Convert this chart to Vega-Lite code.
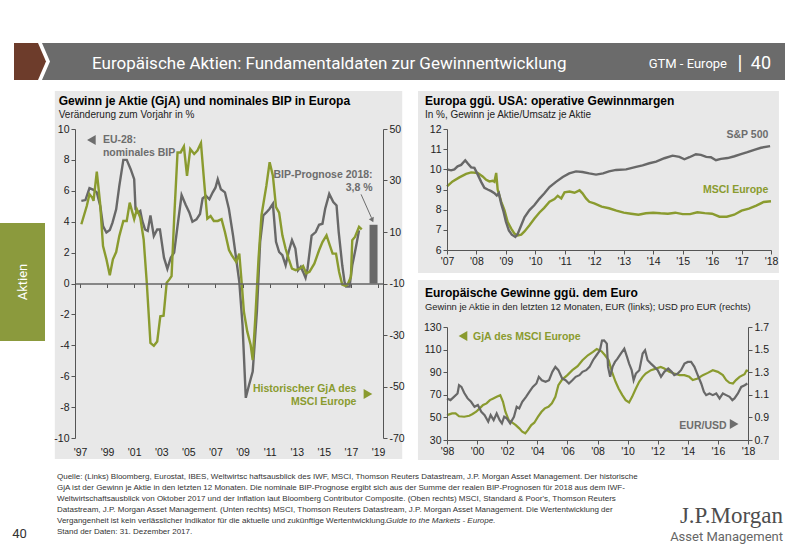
{
"$schema": "https://vega.github.io/schema/vega-lite/v6.json",
"background": "white",
"padding": {"left": 0, "top": 43, "right": 0, "bottom": 0},
"config": {
  "view": {"stroke": null},
  "font": "Liberation Sans",
  "axis": {"labelFont": "Liberation Sans", "labelFontSize": 10.5, "labelColor": "#222222", "domainColor": "#555555", "tickColor": "#555555", "tickSize": 4, "grid": false, "labelFlush": false, "labelOverlap": false, "labelPadding": 2, "domainWidth": 1, "tickWidth": 1},
  "point": {"opacity": 1},
  "text": {"font": "Liberation Sans"}
},
"spacing": 10,
"vconcat": [
  {"bounds": "flush", "spacing": 0, "hconcat": [
    {"width": 52, "height": 37, "view": {"fill": "#ffffff"}, "data": {"values": [{}]}, "layer": [
      {"mark": {"type": "point", "shape": "M-0.4615,-0.7115L0.4615,-0.7115L0.769,0L0.4615,0.7115L-0.4615,0.7115Z", "size": 2704, "filled": true, "color": "#6d3c2b", "strokeWidth": 0, "opacity": 1}, "encoding": {}},
      {"mark": {"type": "point", "shape": "M0.615,-0.7115L1.03,-0.7115L1.03,0.7115L0.615,0.7115L0.923,0Z", "size": 2704, "filled": true, "color": "#6b6b6b", "strokeWidth": 0, "opacity": 1}, "encoding": {}}
    ]},
    {"width": 733, "height": 37, "view": {"fill": "#6b6b6b"}, "data": {"values": [{}]}, "layer": [
      {"mark": {"type": "text", "text": "Europäische Aktien: Fundamentaldaten zur Gewinnentwicklung", "font": "Roboto", "fontSize": 17, "color": "#ffffff", "align": "left", "baseline": "alphabetic", "dx": -326.5, "dy": 7}, "encoding": {}},
      {"mark": {"type": "text", "text": "GTM - Europe", "font": "Roboto", "fontSize": 13, "color": "#ffffff", "align": "right", "baseline": "alphabetic", "dx": 308.5, "dy": 6}, "encoding": {}},
      {"mark": {"type": "text", "text": "|", "font": "Roboto", "fontSize": 20, "color": "#ffffff", "align": "center", "baseline": "alphabetic", "dx": 321.5, "dy": 8}, "encoding": {}},
      {"mark": {"type": "text", "text": "40", "font": "Roboto", "fontSize": 18, "color": "#ffffff", "align": "right", "baseline": "alphabetic", "dx": 352.5, "dy": 7}, "encoding": {}}
    ]}
  ]},
  {"spacing": 7, "vconcat": [
    {"spacing": 8, "hconcat": [
      {"bounds": "flush", "spacing": 0, "vconcat": [
        {"width": 45, "height": 94, "view": {"fill": "#ffffff"}, "data": {"values": []}, "mark": "point", "encoding": {}},
        {"width": 45, "height": 118, "view": {"fill": "#8b9a3d"}, "data": {"values": [{}]}, "mark": {"type": "text", "text": "Aktien", "angle": 270, "font": "Roboto", "fontSize": 13, "color": "#ffffff", "align": "center", "baseline": "middle"}, "encoding": {}}
      ]},
      {"spacing": 12, "hconcat": [
        {"width": 308, "height": 309,
         "resolve": {"scale": {"y": "independent"}, "axis": {"x": "independent", "y": "independent"}},
         "layer": [
          {"layer": [
            {"data": {"values": [{}]}, "mark": {"type": "rect", "fill": "#e8e8e8", "stroke": null},
             "encoding": {"x": {"datum": 1995.14, "type": "quantitative", "scale": {"domain": [1997, 2019], "nice": false, "zero": false}, "axis": {"title": null}}, "x2": {"datum": 2020.79},
                          "y": {"datum": 12.46, "type": "quantitative", "scale": {"domain": [-10, 10], "nice": false, "zero": false}, "axis": {"title": null}}, "y2": {"datum": -11.36}}},
            {"data": {"values": [{}]}, "mark": {"type": "text", "align": "left", "baseline": "alphabetic", "fontSize": 12, "fontWeight": "bold", "color": "#000000", "text": "Gewinn je Aktie (GjA) und nominales BIP in Europa"},
             "encoding": {"x": {"datum": 1995.43, "type": "quantitative", "scale": {"domain": [1997, 2019], "nice": false, "zero": false}, "axis": {"title": null}},
                          "y": {"datum": 11.55, "type": "quantitative", "scale": {"domain": [-10, 10], "nice": false, "zero": false}, "axis": {"title": null}}}},
            {"data": {"values": [{}]}, "mark": {"type": "text", "align": "left", "baseline": "alphabetic", "fontSize": 10, "color": "#222222", "text": "Veränderung zum Vorjahr in %"},
             "encoding": {"x": {"datum": 1995.43, "type": "quantitative", "scale": {"domain": [1997, 2019], "nice": false, "zero": false}, "axis": {"title": null}},
                          "y": {"datum": 10.71, "type": "quantitative", "scale": {"domain": [-10, 10], "nice": false, "zero": false}, "axis": {"title": null}}}},
            {"data": {"values": [{"t":1997.1,"v":5.35},{"t":1997.4,"v":5.4},{"t":1997.7,"v":6.17},{"t":1998.0,"v":6.06},{"t":1998.24,"v":5.9},{"t":1998.5,"v":5.0},{"t":1998.7,"v":3.72},{"t":1998.95,"v":3.3},{"t":1999.2,"v":3.46},{"t":1999.4,"v":3.94},{"t":1999.67,"v":4.8},{"t":1999.9,"v":6.3},{"t":2000.2,"v":8.0},{"t":2000.45,"v":8.0},{"t":2000.74,"v":7.4},{"t":2001.0,"v":6.75},{"t":2001.1,"v":4.8},{"t":2001.3,"v":4.6},{"t":2001.45,"v":4.7},{"t":2001.6,"v":4.05},{"t":2001.8,"v":3.5},{"t":2002.0,"v":3.4},{"t":2002.2,"v":4.4},{"t":2002.45,"v":3.07},{"t":2002.7,"v":3.5},{"t":2002.9,"v":3.5},{"t":2003.2,"v":1.67},{"t":2003.45,"v":0.95},{"t":2003.7,"v":1.67},{"t":2003.95,"v":2.0},{"t":2004.2,"v":3.72},{"t":2004.5,"v":5.73},{"t":2004.8,"v":5.1},{"t":2005.07,"v":4.6},{"t":2005.3,"v":4.0},{"t":2005.6,"v":4.15},{"t":2005.86,"v":4.5},{"t":2006.05,"v":5.5},{"t":2006.3,"v":5.67},{"t":2006.55,"v":5.45},{"t":2006.8,"v":5.9},{"t":2007.0,"v":6.2},{"t":2007.17,"v":6.75},{"t":2007.4,"v":6.1},{"t":2007.7,"v":5.9},{"t":2007.99,"v":4.84},{"t":2008.3,"v":3.1},{"t":2008.53,"v":1.6},{"t":2008.76,"v":0.1},{"t":2009.0,"v":-2.7},{"t":2009.24,"v":-7.4},{"t":2009.47,"v":-6.6},{"t":2009.75,"v":-5.7},{"t":2010.06,"v":-1.8},{"t":2010.3,"v":2.7},{"t":2010.53,"v":4.4},{"t":2010.76,"v":4.6},{"t":2011.0,"v":4.84},{"t":2011.24,"v":5.16},{"t":2011.47,"v":2.7},{"t":2011.7,"v":2.04},{"t":2011.94,"v":1.83},{"t":2012.18,"v":1.18},{"t":2012.4,"v":2.04},{"t":2012.65,"v":2.8},{"t":2012.9,"v":2.26},{"t":2013.1,"v":0.86},{"t":2013.3,"v":1.08},{"t":2013.47,"v":0.75},{"t":2013.65,"v":0.37},{"t":2013.8,"v":0.97},{"t":2014.1,"v":3.1},{"t":2014.4,"v":3.33},{"t":2014.65,"v":3.8},{"t":2014.9,"v":3.87},{"t":2015.1,"v":4.84},{"t":2015.4,"v":5.8},{"t":2015.7,"v":5.27},{"t":2015.94,"v":5.05},{"t":2016.1,"v":3.33},{"t":2016.36,"v":1.18},{"t":2016.53,"v":0.1},{"t":2016.65,"v":-0.2},{"t":2016.9,"v":-0.2},{"t":2017.1,"v":1.18},{"t":2017.35,"v":2.26},{"t":2017.6,"v":3.44}]},
             "mark": {"type": "line", "color": "#686868", "strokeWidth": 2.4},
             "encoding": {"x": {"field": "t", "type": "quantitative", "scale": {"domain": [1997, 2019], "nice": false, "zero": false}, "axis": {"orient": "bottom", "zindex": 1, "tickCount": 40, "values": [1997,1999,2001,2003,2005,2007,2009,2011,2013,2015,2017,2019], "format": "d", "labelExpr": "\"'\" + substring(datum.label, 2)", "domain": false, "ticks": false, "tickSize": 0, "labelPadding": 9, "title": null}},
                          "y": {"field": "v", "type": "quantitative", "scale": {"domain": [-10, 10], "nice": false, "zero": false}, "axis": {"orient": "left", "zindex": 1, "tickCount": 40, "values": [-10,-8,-6,-4,-2,0,2,4,6,8,10], "labelExpr": "toString(datum.value)", "title": null}}}},
            {"data": {"values": [{"jahr": 2018.67, "prognose": 3.8}]}, "mark": {"type": "bar", "color": "#686868", "width": 8, "orient": "vertical"},
             "encoding": {"x": {"field": "jahr", "type": "quantitative", "scale": {"domain": [1997, 2019], "nice": false, "zero": false}, "axis": {"title": null}},
                          "y": {"field": "prognose", "type": "quantitative", "scale": {"domain": [-10, 10], "nice": false, "zero": false}, "axis": {"title": null}}}},
            {"data": {"values": [{}]}, "mark": {"type": "point", "shape": "triangle-left", "filled": true, "color": "#6d6d6d", "size": 100, "opacity": 1},
             "encoding": {"x": {"datum": 1997.84, "type": "quantitative", "scale": {"domain": [1997, 2019], "nice": false, "zero": false}, "axis": {"title": null}},
                          "y": {"datum": 9.29, "type": "quantitative", "scale": {"domain": [-10, 10], "nice": false, "zero": false}, "axis": {"title": null}}}},
            {"data": {"values": [{}]}, "mark": {"type": "text", "align": "left", "baseline": "alphabetic", "fontSize": 10.5, "fontWeight": "bold", "color": "#6d6d6d", "lineHeight": 12.5},
             "encoding": {"x": {"datum": 1998.69, "type": "quantitative", "scale": {"domain": [1997, 2019], "nice": false, "zero": false}, "axis": {"title": null}},
                          "y": {"datum": 9.09, "type": "quantitative", "scale": {"domain": [-10, 10], "nice": false, "zero": false}, "axis": {"title": null}},
                          "text": {"value": ["EU-28:", "nominales BIP"]}}},
            {"data": {"values": [{}]}, "mark": {"type": "text", "align": "right", "baseline": "alphabetic", "fontSize": 10.5, "fontWeight": "bold", "color": "#6d6d6d", "lineHeight": 13},
             "encoding": {"x": {"datum": 2018.6, "type": "quantitative", "scale": {"domain": [1997, 2019], "nice": false, "zero": false}, "axis": {"title": null}},
                          "y": {"datum": 6.83, "type": "quantitative", "scale": {"domain": [-10, 10], "nice": false, "zero": false}, "axis": {"title": null}},
                          "text": {"value": ["BIP-Prognose 2018:", "3,8 %"]}}},
            {"data": {"values": [{}]}, "mark": {"type": "rule", "color": "#6d6d6d", "strokeWidth": 1},
             "encoding": {"x": {"datum": 2017.75, "type": "quantitative", "scale": {"domain": [1997, 2019], "nice": false, "zero": false}, "axis": {"title": null}}, "x2": {"datum": 2018.52},
                          "y": {"datum": 5.77, "type": "quantitative", "scale": {"domain": [-10, 10], "nice": false, "zero": false}, "axis": {"title": null}}, "y2": {"datum": 4.25}}},
            {"data": {"values": [{}]}, "mark": {"type": "point", "shape": "triangle-down", "filled": true, "color": "#6d6d6d", "size": 30, "angle": -25, "opacity": 1},
             "encoding": {"x": {"datum": 2018.58, "type": "quantitative", "scale": {"domain": [1997, 2019], "nice": false, "zero": false}, "axis": {"title": null}},
                          "y": {"datum": 4.1, "type": "quantitative", "scale": {"domain": [-10, 10], "nice": false, "zero": false}, "axis": {"title": null}}}}
          ]},
          {"layer": [
            {"data": {"values": [{"t":1997.1,"g":13.0},{"t":1997.5,"g":20.1},{"t":1997.7,"g":24.7},{"t":1997.9,"g":23.4},{"t":1998.0,"g":22.1},{"t":1998.24,"g":33.4},{"t":1998.48,"g":21.4},{"t":1998.7,"g":4.5},{"t":1998.95,"g":-0.6},{"t":1999.2,"g":-6.8},{"t":1999.43,"g":-0.6},{"t":1999.67,"g":2.2},{"t":1999.9,"g":8.4},{"t":2000.2,"g":14.3},{"t":2000.45,"g":14.3},{"t":2000.67,"g":21.4},{"t":2001.0,"g":15.0},{"t":2001.2,"g":18.8},{"t":2001.45,"g":15.6},{"t":2001.7,"g":7.1},{"t":2001.93,"g":-9.7},{"t":2002.2,"g":-33.1},{"t":2002.45,"g":-34.2},{"t":2002.7,"g":-32.5},{"t":2002.93,"g":-22.7},{"t":2003.17,"g":-22.5},{"t":2003.4,"g":-9.7},{"t":2003.6,"g":-8.4},{"t":2003.76,"g":-7.1},{"t":2003.95,"g":15.0},{"t":2004.2,"g":40.9},{"t":2004.43,"g":40.9},{"t":2004.67,"g":43.2},{"t":2004.9,"g":31.8},{"t":2005.14,"g":42.2},{"t":2005.43,"g":40.3},{"t":2005.67,"g":41.6},{"t":2005.93,"g":44.5},{"t":2006.17,"g":29.2},{"t":2006.4,"g":15.2},{"t":2006.64,"g":16.2},{"t":2006.88,"g":14.3},{"t":2007.17,"g":14.3},{"t":2007.45,"g":15.0},{"t":2007.7,"g":10.0},{"t":2008.0,"g":3.0},{"t":2008.2,"g":1.0},{"t":2008.53,"g":-1.6},{"t":2008.76,"g":1.6},{"t":2008.95,"g":-10.6},{"t":2009.1,"g":-21},{"t":2009.35,"g":-28.7},{"t":2009.6,"g":-33.9},{"t":2009.75,"g":-39.7},{"t":2009.94,"g":-23.5},{"t":2010.18,"g":-0.3},{"t":2010.4,"g":16.5},{"t":2010.76,"g":28},{"t":2011.0,"g":37.1},{"t":2011.24,"g":31.9},{"t":2011.47,"g":19.7},{"t":2011.7,"g":17.5},{"t":2011.94,"g":8.7},{"t":2012.18,"g":3.5},{"t":2012.4,"g":-0.3},{"t":2012.65,"g":-4.2},{"t":2012.93,"g":-4.8},{"t":2013.24,"g":-4.2},{"t":2013.47,"g":-3.2},{"t":2013.7,"g":-6.1},{"t":2013.94,"g":-5.5},{"t":2014.3,"g":-2.3},{"t":2014.65,"g":2.9},{"t":2014.9,"g":6.1},{"t":2015.2,"g":8.7},{"t":2015.4,"g":5.5},{"t":2015.65,"g":1.6},{"t":2015.9,"g":1.6},{"t":2016.13,"g":-5.5},{"t":2016.36,"g":-10.4},{"t":2016.6,"g":-10.9},{"t":2016.76,"g":-10.4},{"t":2017.0,"g":-7.4},{"t":2017.1,"g":6.8},{"t":2017.3,"g":8.1},{"t":2017.6,"g":12.0},{"t":2017.8,"g":11.0}]},
             "mark": {"type": "line", "color": "#8a9b2f", "strokeWidth": 2.4},
             "encoding": {"x": {"field": "t", "type": "quantitative", "scale": {"domain": [1997, 2019], "nice": false, "zero": false}, "axis": {"orient": "bottom", "zindex": 1, "tickCount": 40, "offset": -154.5, "values": [1997,1999,2001,2003,2005,2007,2009,2011,2013,2015,2017,2019], "labels": false, "domain": true, "ticks": true, "tickSize": 4, "domainColor": "#666666", "domainWidth": 1.5, "title": null}},
                          "y": {"field": "g", "type": "quantitative", "scale": {"domain": [-70, 50], "nice": false, "zero": false}, "axis": {"orient": "right", "zindex": 1, "tickCount": 40, "values": [-70,-50,-30,-10,10,30,50], "labelExpr": "toString(datum.value)", "title": null}}}},
            {"data": {"values": [{}]}, "mark": {"type": "text", "align": "right", "baseline": "alphabetic", "fontSize": 10.5, "fontWeight": "bold", "color": "#8a9b2f", "lineHeight": 13},
             "encoding": {"x": {"datum": 2017.41, "type": "quantitative", "scale": {"domain": [1997, 2019], "nice": false, "zero": false}, "axis": {"title": null}},
                          "y": {"datum": -52.1, "type": "quantitative", "scale": {"domain": [-70, 50], "nice": false, "zero": false}, "axis": {"title": null}},
                          "text": {"value": ["Historischer GjA des", "MSCI Europe"]}}},
            {"data": {"values": [{}]}, "mark": {"type": "point", "shape": "triangle-right", "filled": true, "color": "#8a9b2f", "size": 100, "opacity": 1},
             "encoding": {"x": {"datum": 2018.26, "type": "quantitative", "scale": {"domain": [1997, 2019], "nice": false, "zero": false}, "axis": {"title": null}},
                          "y": {"datum": -52.9, "type": "quantitative", "scale": {"domain": [-70, 50], "nice": false, "zero": false}, "axis": {"title": null}}}}
          ]}
         ]},
        {"spacing": 6, "vconcat": [
          {"width": 324, "height": 121,
           "layer": [
            {"data": {"values": [{}]}, "mark": {"type": "rect", "fill": "#e8e8e8", "stroke": null},
             "encoding": {"x": {"datum": 2006.015, "type": "quantitative", "scale": {"domain": [2007, 2018], "nice": false, "zero": false}, "axis": {"title": null}}, "x2": {"datum": 2018.27},
                          "y": {"datum": 13.88, "type": "quantitative", "scale": {"domain": [6, 12], "nice": false, "zero": false}, "axis": {"title": null}}, "y2": {"datum": 4.86}}},
            {"data": {"values": [{}]}, "mark": {"type": "text", "align": "left", "baseline": "alphabetic", "fontSize": 12, "fontWeight": "bold", "color": "#000000", "text": "Europa ggü. USA: operative Gewinnmargen"},
             "encoding": {"x": {"datum": 2006.25, "type": "quantitative", "scale": {"domain": [2007, 2018], "nice": false, "zero": false}, "axis": {"title": null}},
                          "y": {"datum": 13.19, "type": "quantitative", "scale": {"domain": [6, 12], "nice": false, "zero": false}, "axis": {"title": null}}}},
            {"data": {"values": [{}]}, "mark": {"type": "text", "align": "left", "baseline": "alphabetic", "fontSize": 10, "color": "#222222", "text": "In %, Gewinn je Aktie/Umsatz je Aktie"},
             "encoding": {"x": {"datum": 2006.25, "type": "quantitative", "scale": {"domain": [2007, 2018], "nice": false, "zero": false}, "axis": {"title": null}},
                          "y": {"datum": 12.55, "type": "quantitative", "scale": {"domain": [6, 12], "nice": false, "zero": false}, "axis": {"title": null}}}},
            {"data": {"values": [{"t":2007.0,"m":9.15},{"t":2007.19,"m":9.4},{"t":2007.42,"m":9.6},{"t":2007.65,"m":9.77},{"t":2007.82,"m":9.85},{"t":2008.04,"m":9.82},{"t":2008.21,"m":9.65},{"t":2008.33,"m":9.48},{"t":2008.44,"m":9.4},{"t":2008.55,"m":9.43},{"t":2008.61,"m":9.38},{"t":2008.67,"m":9.82},{"t":2008.72,"m":9.0},{"t":2008.84,"m":8.4},{"t":2008.95,"m":7.98},{"t":2009.06,"m":7.39},{"t":2009.18,"m":7.06},{"t":2009.29,"m":6.81},{"t":2009.4,"m":6.72},{"t":2009.52,"m":6.76},{"t":2009.63,"m":6.92},{"t":2009.8,"m":7.23},{"t":2009.97,"m":7.56},{"t":2010.14,"m":7.86},{"t":2010.3,"m":8.09},{"t":2010.48,"m":8.39},{"t":2010.65,"m":8.53},{"t":2010.76,"m":8.69},{"t":2010.88,"m":8.56},{"t":2010.99,"m":8.86},{"t":2011.16,"m":8.9},{"t":2011.33,"m":8.84},{"t":2011.5,"m":8.96},{"t":2011.6,"m":8.81},{"t":2011.72,"m":8.56},{"t":2011.83,"m":8.39},{"t":2012.0,"m":8.31},{"t":2012.25,"m":8.15},{"t":2012.5,"m":8.07},{"t":2012.75,"m":7.95},{"t":2013.0,"m":7.85},{"t":2013.25,"m":7.8},{"t":2013.5,"m":7.75},{"t":2013.75,"m":7.82},{"t":2014.0,"m":7.85},{"t":2014.25,"m":7.82},{"t":2014.5,"m":7.8},{"t":2014.75,"m":7.85},{"t":2015.0,"m":7.78},{"t":2015.25,"m":7.78},{"t":2015.5,"m":7.87},{"t":2015.75,"m":7.83},{"t":2016.0,"m":7.8},{"t":2016.25,"m":7.65},{"t":2016.5,"m":7.65},{"t":2016.75,"m":7.75},{"t":2017.0,"m":7.95},{"t":2017.25,"m":8.05},{"t":2017.5,"m":8.2},{"t":2017.75,"m":8.38},{"t":2018.0,"m":8.42}]},
             "mark": {"type": "line", "color": "#8a9b2f", "strokeWidth": 2.4},
             "encoding": {"x": {"field": "t", "type": "quantitative", "scale": {"domain": [2007, 2018], "nice": false, "zero": false}, "axis": {"title": null}},
                          "y": {"field": "m", "type": "quantitative", "scale": {"domain": [6, 12], "nice": false, "zero": false}, "axis": {"title": null}}}},
            {"data": {"values": [{"t":2007.0,"s":10.0},{"t":2007.14,"s":9.95},{"t":2007.25,"s":10.0},{"t":2007.36,"s":10.15},{"t":2007.48,"s":10.22},{"t":2007.62,"s":10.45},{"t":2007.7,"s":10.3},{"t":2007.82,"s":10.1},{"t":2007.93,"s":10.07},{"t":2008.04,"s":9.75},{"t":2008.16,"s":9.38},{"t":2008.27,"s":9.08},{"t":2008.38,"s":9.0},{"t":2008.5,"s":8.92},{"t":2008.61,"s":8.82},{"t":2008.69,"s":8.7},{"t":2008.76,"s":8.82},{"t":2008.84,"s":8.3},{"t":2008.92,"s":7.9},{"t":2009.0,"s":7.4},{"t":2009.1,"s":6.97},{"t":2009.2,"s":6.76},{"t":2009.32,"s":6.65},{"t":2009.4,"s":6.8},{"t":2009.52,"s":7.23},{"t":2009.63,"s":7.62},{"t":2009.8,"s":7.98},{"t":2009.97,"s":8.23},{"t":2010.14,"s":8.55},{"t":2010.3,"s":8.8},{"t":2010.48,"s":9.12},{"t":2010.7,"s":9.38},{"t":2010.93,"s":9.62},{"t":2011.15,"s":9.8},{"t":2011.38,"s":9.9},{"t":2011.6,"s":9.87},{"t":2011.83,"s":9.8},{"t":2012.06,"s":9.74},{"t":2012.3,"s":9.8},{"t":2012.5,"s":9.9},{"t":2012.74,"s":9.97},{"t":2013.08,"s":10.0},{"t":2013.42,"s":10.12},{"t":2013.64,"s":10.2},{"t":2013.87,"s":10.3},{"t":2014.1,"s":10.38},{"t":2014.38,"s":10.55},{"t":2014.66,"s":10.68},{"t":2014.89,"s":10.62},{"t":2015.06,"s":10.5},{"t":2015.23,"s":10.6},{"t":2015.45,"s":10.75},{"t":2015.62,"s":10.72},{"t":2015.8,"s":10.62},{"t":2015.96,"s":10.6},{"t":2016.13,"s":10.45},{"t":2016.3,"s":10.52},{"t":2016.53,"s":10.56},{"t":2016.76,"s":10.65},{"t":2016.98,"s":10.75},{"t":2017.2,"s":10.85},{"t":2017.43,"s":10.97},{"t":2017.66,"s":11.07},{"t":2017.97,"s":11.15}]},
             "mark": {"type": "line", "color": "#686868", "strokeWidth": 2.4},
             "encoding": {"x": {"field": "t", "type": "quantitative", "scale": {"domain": [2007, 2018], "nice": false, "zero": false}, "axis": {"orient": "bottom", "zindex": 1, "tickCount": 40, "values": [2007,2008,2009,2010,2011,2012,2013,2014,2015,2016,2017,2018], "format": "d", "labelExpr": "\"'\" + substring(datum.label, 2)", "title": null}},
                          "y": {"field": "s", "type": "quantitative", "scale": {"domain": [6, 12], "nice": false, "zero": false}, "axis": {"orient": "left", "zindex": 1, "tickCount": 40, "values": [6,7,8,9,10,11,12], "labelExpr": "toString(datum.value)", "title": null}}}},
            {"data": {"values": [{}]}, "mark": {"type": "text", "align": "right", "baseline": "alphabetic", "fontSize": 10.5, "fontWeight": "bold", "color": "#6d6d6d", "text": "S&P 500"},
             "encoding": {"x": {"datum": 2017.91, "type": "quantitative", "scale": {"domain": [2007, 2018], "nice": false, "zero": false}, "axis": {"title": null}},
                          "y": {"datum": 11.53, "type": "quantitative", "scale": {"domain": [6, 12], "nice": false, "zero": false}, "axis": {"title": null}}}},
            {"data": {"values": [{}]}, "mark": {"type": "text", "align": "right", "baseline": "alphabetic", "fontSize": 10.5, "fontWeight": "bold", "color": "#8a9b2f", "text": "MSCI Europe"},
             "encoding": {"x": {"datum": 2017.91, "type": "quantitative", "scale": {"domain": [2007, 2018], "nice": false, "zero": false}, "axis": {"title": null}},
                          "y": {"datum": 8.81, "type": "quantitative", "scale": {"domain": [6, 12], "nice": false, "zero": false}, "axis": {"title": null}}}}
           ]},
          {"width": 301, "height": 113,
           "resolve": {"scale": {"y": "independent"}},
           "layer": [
            {"layer": [
              {"data": {"values": [{}]}, "mark": {"type": "rect", "fill": "#e8e8e8", "stroke": null},
               "encoding": {"x": {"datum": 1996.07, "type": "quantitative", "scale": {"domain": [1998, 2018], "nice": false, "zero": false}, "axis": {"title": null}}, "x2": {"datum": 2020.06},
                            "y": {"datum": 171.6, "type": "quantitative", "scale": {"domain": [30, 130], "nice": false, "zero": false}, "axis": {"title": null}}, "y2": {"datum": 12.3}}},
              {"data": {"values": [{}]}, "mark": {"type": "text", "align": "left", "baseline": "alphabetic", "fontSize": 12, "fontWeight": "bold", "color": "#000000", "text": "Europäische Gewinne ggü. dem Euro"},
               "encoding": {"x": {"datum": 1996.54, "type": "quantitative", "scale": {"domain": [1998, 2018], "nice": false, "zero": false}, "axis": {"title": null}},
                            "y": {"datum": 156.5, "type": "quantitative", "scale": {"domain": [30, 130], "nice": false, "zero": false}, "axis": {"title": null}}}},
              {"data": {"values": [{}]}, "mark": {"type": "text", "align": "left", "baseline": "alphabetic", "fontSize": 9.4, "color": "#222222", "text": "Gewinn je Aktie in den letzten 12 Monaten, EUR (links); USD pro EUR (rechts)"},
               "encoding": {"x": {"datum": 1996.54, "type": "quantitative", "scale": {"domain": [1998, 2018], "nice": false, "zero": false}, "axis": {"title": null}},
                            "y": {"datum": 145.4, "type": "quantitative", "scale": {"domain": [30, 130], "nice": false, "zero": false}, "axis": {"title": null}}}},
              {"data": {"values": [{"t":1998.0,"eps":52},{"t":1998.34,"eps":53.5},{"t":1998.57,"eps":53.5},{"t":1998.8,"eps":51},{"t":1999.14,"eps":50.6},{"t":1999.48,"eps":51.5},{"t":1999.7,"eps":53},{"t":1999.94,"eps":55},{"t":2000.17,"eps":58},{"t":2000.4,"eps":61},{"t":2000.63,"eps":62.4},{"t":2000.85,"eps":65.3},{"t":2001.08,"eps":66.8},{"t":2001.3,"eps":68.2},{"t":2001.54,"eps":69.7},{"t":2001.72,"eps":63.8},{"t":2001.88,"eps":55},{"t":2002.1,"eps":47.6},{"t":2002.34,"eps":45.3},{"t":2002.57,"eps":43.2},{"t":2002.8,"eps":40.3},{"t":2003.0,"eps":37.4},{"t":2003.2,"eps":35.9},{"t":2003.37,"eps":38.8},{"t":2003.6,"eps":43.2},{"t":2003.8,"eps":45.3},{"t":2004.05,"eps":50.6},{"t":2004.28,"eps":55},{"t":2004.5,"eps":58},{"t":2004.74,"eps":59.4},{"t":2004.97,"eps":62.4},{"t":2005.2,"eps":68.2},{"t":2005.4,"eps":78.5},{"t":2005.65,"eps":83.5},{"t":2006.0,"eps":87.4},{"t":2006.33,"eps":91.8},{"t":2006.68,"eps":95.3},{"t":2007.0,"eps":100.6},{"t":2007.36,"eps":105},{"t":2007.7,"eps":108},{"t":2007.95,"eps":110.5},{"t":2008.27,"eps":108.5},{"t":2008.5,"eps":105},{"t":2008.74,"eps":100.6},{"t":2008.96,"eps":90.3},{"t":2009.2,"eps":81.5},{"t":2009.4,"eps":75.6},{"t":2009.65,"eps":69.7},{"t":2009.87,"eps":65.3},{"t":2010.1,"eps":63.2},{"t":2010.3,"eps":68.2},{"t":2010.55,"eps":75.6},{"t":2010.77,"eps":81.5},{"t":2011.0,"eps":85.9},{"t":2011.2,"eps":88.8},{"t":2011.55,"eps":91.8},{"t":2011.88,"eps":93.2},{"t":2012.2,"eps":94.7},{"t":2012.44,"eps":93.2},{"t":2012.77,"eps":90.3},{"t":2013.1,"eps":88.8},{"t":2013.45,"eps":87.4},{"t":2013.77,"eps":87.4},{"t":2014.1,"eps":85.9},{"t":2014.33,"eps":83},{"t":2014.66,"eps":84.4},{"t":2015.0,"eps":87.4},{"t":2015.33,"eps":89.4},{"t":2015.66,"eps":91.8},{"t":2016.0,"eps":90.3},{"t":2016.33,"eps":87.4},{"t":2016.55,"eps":83},{"t":2016.77,"eps":80.6},{"t":2017.0,"eps":80},{"t":2017.2,"eps":83},{"t":2017.44,"eps":85.9},{"t":2017.77,"eps":88.2},{"t":2017.9,"eps":91.5},{"t":2018.0,"eps":91}]},
               "mark": {"type": "line", "color": "#8a9b2f", "strokeWidth": 2.2},
               "encoding": {"x": {"field": "t", "type": "quantitative", "scale": {"domain": [1998, 2018], "nice": false, "zero": false}, "axis": {"orient": "bottom", "zindex": 1, "tickCount": 40, "values": [1998,2000,2002,2004,2006,2008,2010,2012,2014,2016,2018], "format": "d", "labelExpr": "\"'\" + substring(datum.label, 2)", "title": null}},
                            "y": {"field": "eps", "type": "quantitative", "scale": {"domain": [30, 130], "nice": false, "zero": false}, "axis": {"orient": "left", "zindex": 1, "tickCount": 40, "values": [30,50,70,90,110,130], "labelExpr": "toString(datum.value)", "title": null}}}},
              {"data": {"values": [{}]}, "mark": {"type": "point", "shape": "triangle-left", "filled": true, "color": "#8a9b2f", "size": 100, "opacity": 1},
               "encoding": {"x": {"datum": 1999.06, "type": "quantitative", "scale": {"domain": [1998, 2018], "nice": false, "zero": false}, "axis": {"title": null}},
                            "y": {"datum": 122, "type": "quantitative", "scale": {"domain": [30, 130], "nice": false, "zero": false}, "axis": {"title": null}}}},
              {"data": {"values": [{}]}, "mark": {"type": "text", "align": "left", "baseline": "alphabetic", "fontSize": 10.5, "fontWeight": "bold", "color": "#8a9b2f", "text": "GjA des MSCI Europe"},
               "encoding": {"x": {"datum": 1999.73, "type": "quantitative", "scale": {"domain": [1998, 2018], "nice": false, "zero": false}, "axis": {"title": null}},
                            "y": {"datum": 118.5, "type": "quantitative", "scale": {"domain": [30, 130], "nice": false, "zero": false}, "axis": {"title": null}}}},
              {"data": {"values": [{}]}, "mark": {"type": "text", "align": "right", "baseline": "alphabetic", "fontSize": 10.5, "fontWeight": "bold", "color": "#6d6d6d", "text": "EUR/USD"},
               "encoding": {"x": {"datum": 2016.58, "type": "quantitative", "scale": {"domain": [1998, 2018], "nice": false, "zero": false}, "axis": {"title": null}},
                            "y": {"datum": 40.0, "type": "quantitative", "scale": {"domain": [30, 130], "nice": false, "zero": false}, "axis": {"title": null}}}},
              {"data": {"values": [{}]}, "mark": {"type": "point", "shape": "triangle-right", "filled": true, "color": "#6d6d6d", "size": 100, "opacity": 1},
               "encoding": {"x": {"datum": 2017.08, "type": "quantitative", "scale": {"domain": [1998, 2018], "nice": false, "zero": false}, "axis": {"title": null}},
                            "y": {"datum": 44.2, "type": "quantitative", "scale": {"domain": [30, 130], "nice": false, "zero": false}, "axis": {"title": null}}}}
            ]},
            {"layer": [
              {"data": {"values": [{"t":1998.0,"fx":1.068},{"t":1998.23,"fx":1.053},{"t":1998.46,"fx":1.082},{"t":1998.7,"fx":1.112},{"t":1998.8,"fx":1.185},{"t":1998.96,"fx":1.17},{"t":1999.14,"fx":1.118},{"t":1999.37,"fx":1.068},{"t":1999.6,"fx":1.038},{"t":1999.83,"fx":0.994},{"t":2000.05,"fx":1.009},{"t":2000.28,"fx":0.95},{"t":2000.5,"fx":0.92},{"t":2000.74,"fx":0.862},{"t":2000.9,"fx":0.92},{"t":2001.1,"fx":0.876},{"t":2001.3,"fx":0.935},{"t":2001.5,"fx":0.876},{"t":2001.65,"fx":0.847},{"t":2001.8,"fx":0.906},{"t":2001.97,"fx":0.891},{"t":2002.2,"fx":0.847},{"t":2002.45,"fx":0.906},{"t":2002.63,"fx":0.994},{"t":2002.8,"fx":0.98},{"t":2003.0,"fx":1.038},{"t":2003.25,"fx":1.082},{"t":2003.47,"fx":1.126},{"t":2003.7,"fx":1.17},{"t":2003.94,"fx":1.2},{"t":2004.1,"fx":1.259},{"t":2004.3,"fx":1.229},{"t":2004.55,"fx":1.215},{"t":2004.78,"fx":1.229},{"t":2005.0,"fx":1.303},{"t":2005.2,"fx":1.347},{"t":2005.4,"fx":1.318},{"t":2005.65,"fx":1.244},{"t":2005.88,"fx":1.229},{"t":2006.1,"fx":1.2},{"t":2006.33,"fx":1.229},{"t":2006.55,"fx":1.259},{"t":2006.8,"fx":1.274},{"t":2007.0,"fx":1.303},{"t":2007.25,"fx":1.318},{"t":2007.47,"fx":1.347},{"t":2007.7,"fx":1.406},{"t":2007.93,"fx":1.45},{"t":2008.16,"fx":1.494},{"t":2008.3,"fx":1.58},{"t":2008.44,"fx":1.582},{"t":2008.62,"fx":1.553},{"t":2008.7,"fx":1.347},{"t":2008.84,"fx":1.259},{"t":2009.0,"fx":1.347},{"t":2009.16,"fx":1.391},{"t":2009.33,"fx":1.42},{"t":2009.55,"fx":1.465},{"t":2009.78,"fx":1.509},{"t":2009.96,"fx":1.435},{"t":2010.1,"fx":1.376},{"t":2010.27,"fx":1.318},{"t":2010.4,"fx":1.229},{"t":2010.55,"fx":1.288},{"t":2010.78,"fx":1.318},{"t":2011.0,"fx":1.465},{"t":2011.16,"fx":1.494},{"t":2011.33,"fx":1.406},{"t":2011.55,"fx":1.376},{"t":2011.78,"fx":1.347},{"t":2012.0,"fx":1.318},{"t":2012.22,"fx":1.259},{"t":2012.44,"fx":1.303},{"t":2012.7,"fx":1.332},{"t":2012.93,"fx":1.303},{"t":2013.1,"fx":1.274},{"t":2013.33,"fx":1.288},{"t":2013.55,"fx":1.318},{"t":2013.78,"fx":1.376},{"t":2014.0,"fx":1.391},{"t":2014.22,"fx":1.391},{"t":2014.44,"fx":1.347},{"t":2014.66,"fx":1.274},{"t":2014.89,"fx":1.2},{"t":2015.07,"fx":1.126},{"t":2015.22,"fx":1.097},{"t":2015.44,"fx":1.112},{"t":2015.66,"fx":1.097},{"t":2015.89,"fx":1.112},{"t":2016.11,"fx":1.068},{"t":2016.33,"fx":1.112},{"t":2016.55,"fx":1.097},{"t":2016.78,"fx":1.082},{"t":2016.96,"fx":1.053},{"t":2017.1,"fx":1.068},{"t":2017.33,"fx":1.112},{"t":2017.55,"fx":1.17},{"t":2017.78,"fx":1.185},{"t":2017.96,"fx":1.2}]},
               "mark": {"type": "line", "color": "#686868", "strokeWidth": 2.2},
               "encoding": {"x": {"field": "t", "type": "quantitative", "scale": {"domain": [1998, 2018], "nice": false, "zero": false}, "axis": {"title": null}},
                            "y": {"field": "fx", "type": "quantitative", "scale": {"domain": [0.7, 1.7], "nice": false, "zero": false}, "axis": {"orient": "right", "zindex": 1, "tickCount": 40, "values": [0.7,0.9,1.1,1.3,1.5,1.7], "format": ".1f", "title": null}}}}
            ]}
           ]}
        ]}
      ]}
    ]},
    {"bounds": "flush", "spacing": 12, "hconcat": [
      {"width": 45, "height": 75, "view": {"fill": "#ffffff"}, "data": {"values": [{}]}, "mark": {"type": "text", "text": "40", "font": "Roboto", "fontSize": 13, "color": "#333333", "align": "center", "baseline": "alphabetic", "dx": -3, "dy": 32.5}, "encoding": {}},
      {"width": 600, "height": 75, "view": {"fill": "#ffffff"}, "data": {"values": [{}]}, "layer": [
        {"mark": {"type": "text", "fontSize": 8, "color": "#333333", "align": "left", "baseline": "top", "lineHeight": 11, "dx": -300, "dy": -32.5,
                  "text": ["Quelle: (Links) Bloomberg, Eurostat, IBES, Weltwirtsc haftsausblick des IWF, MSCI, Thomson Reuters Datastream, J.P. Morgan Asset Management. Der historische", "GjA ist der Gewinn je Aktie in den letzten 12 Monaten. Die nominale BIP-Prognose ergibt sich aus der Summe der realen BIP-Prognosen für 2018 aus dem IWF-", "Weltwirtschaftsausblick von Oktober 2017 und der Inflation laut Bloomberg Contributor Composite. (Oben rechts) MSCI, Standard & Poor's, Thomson Reuters", "Datastream, J.P. Morgan Asset Management. (Unten rechts) MSCI, Thomson Reuters Datastream, J.P. Morgan Asset Management. Die Wertentwicklung der", "Vergangenheit ist kein verlässlicher Indikator für die aktuelle und zukünftige Wertentwicklung.", "Stand der Daten: 31. Dezember 2017."]}, "encoding": {}},
        {"mark": {"type": "text", "fontSize": 8, "fontStyle": "italic", "color": "#333333", "align": "left", "baseline": "top", "dx": 29, "dy": 11.5, "text": "Guide to the Markets - Europe."}, "encoding": {}}
      ]},
      {"width": 115, "height": 75, "view": {"fill": "#ffffff"}, "data": {"values": [{}]}, "layer": [
        {"mark": {"type": "text", "text": "J.P.Morgan", "font": "Liberation Serif", "fontSize": 23, "color": "#4d4d4d", "align": "right", "baseline": "alphabetic", "dx": 56.5, "dy": 17.5}, "encoding": {}},
        {"mark": {"type": "text", "text": "Asset Management", "font": "Roboto", "fontSize": 13, "color": "#666666", "align": "right", "baseline": "alphabetic", "dx": 56.5, "dy": 35.5}, "encoding": {}}
      ]}
    ]}
  ]}
]
}
